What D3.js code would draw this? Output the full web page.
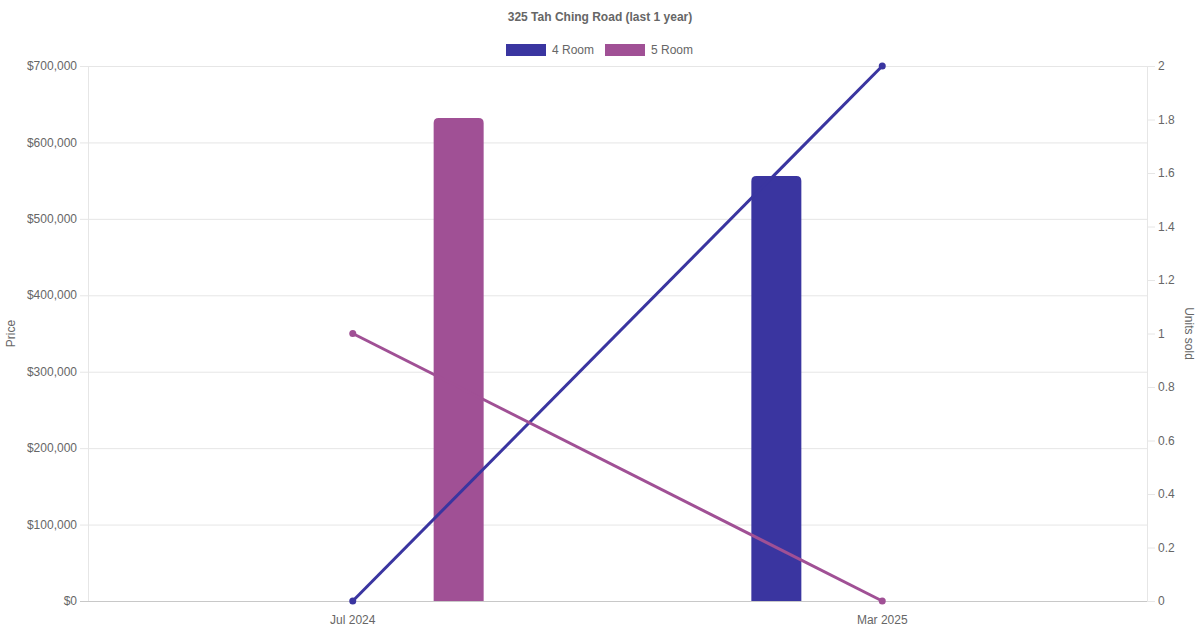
<!DOCTYPE html>
<html><head><meta charset="utf-8">
<script src="https://cdn.jsdelivr.net/npm/d3@7/dist/d3.min.js"></script>
<style>
html,body{margin:0;padding:0;background:#fff;}
svg text{font-family:"Liberation Sans",Arial,Helvetica,sans-serif;fill:#666;}
</style></head>
<body>
<svg id="c" width="1200" height="630"></svg>
<script>
const title = "325 Tah Ching Road (last 1 year)";
const categories = ["Jul 2024", "Mar 2025"];
const seriesNames = ["4 Room", "5 Room"];
const seriesColors = ["#3a35a0", "#a05095"];
const price4Room = [null, 556000];
const price5Room = [632000, null];
const units4Room = [0, 2];
const units5Room = [1, 0];
const priceTicks = [0, 100000, 200000, 300000, 400000, 500000, 600000, 700000];
const unitTicks = [0, 0.2, 0.4, 0.6, 0.8, 1, 1.2, 1.4, 1.6, 1.8, 2];

const svg = d3.select("#c");
const W = 1200, H = 630;
const m = {left: 88, right: 1147, top: 66, bottom: 601};

const x = d3.scaleBand().domain(categories).range([m.left, m.right]).padding(0);
const inner = d3.scaleBand().domain(seriesNames)
  .range([-x.bandwidth() * 0.4, x.bandwidth() * 0.4]).padding(0);
const yL = d3.scaleLinear().domain([0, 700000]).range([m.bottom, m.top]);
const yR = d3.scaleLinear().domain([0, 2]).range([m.bottom, m.top]);

// grid
svg.append("g").selectAll("line").data(priceTicks).join("line")
  .attr("x1", m.left - 8).attr("x2", m.right)
  .attr("y1", d => yL(d) + 0.5).attr("y2", d => yL(d) + 0.5)
  .attr("stroke", d => d === 0 ? "#c8c8c8" : "#e6e6e6").attr("stroke-width", 1);
// right ticks
svg.append("g").selectAll("line").data(unitTicks).join("line")
  .attr("x1", m.right).attr("x2", m.right + 8)
  .attr("y1", d => yR(d) + 0.5).attr("y2", d => yR(d) + 0.5)
  .attr("stroke", "#e6e6e6");
// axis vertical lines
svg.append("line").attr("x1", m.left + 0.5).attr("x2", m.left + 0.5)
  .attr("y1", m.top).attr("y2", m.bottom).attr("stroke", "#e6e6e6");
svg.append("line").attr("x1", m.right + 0.5).attr("x2", m.right + 0.5)
  .attr("y1", m.top).attr("y2", m.bottom).attr("stroke", "#e6e6e6");

// left labels
const fmt = d => "$" + d3.format(",")(d);
svg.append("g").selectAll("text").data(priceTicks).join("text")
  .attr("x", m.left - 11).attr("y", d => yL(d)).attr("dy", "0.35em")
  .attr("text-anchor", "end").attr("font-size", 12).text(fmt);
svg.append("g").selectAll("text").data(unitTicks).join("text")
  .attr("x", m.right + 11).attr("y", d => yR(d)).attr("dy", "0.35em")
  .attr("text-anchor", "start").attr("font-size", 12).text(d => d3.format("~g")(d));
// x labels
svg.append("g").selectAll("text").data(categories).join("text")
  .attr("x", d => x(d) + x.bandwidth() / 2).attr("y", 620).attr("dy", "0.35em")
  .attr("text-anchor", "middle").attr("font-size", 12).text(d => d);

// axis titles
svg.append("text").attr("transform", `translate(15,${(m.top + m.bottom) / 2}) rotate(-90)`)
  .attr("text-anchor", "middle").attr("font-size", 12).text("Price");
svg.append("text").attr("transform", `translate(1185,${(m.top + m.bottom) / 2}) rotate(90)`)
  .attr("text-anchor", "middle").attr("font-size", 12).text("Units sold");

// title
svg.append("text").attr("x", W / 2).attr("y", 17).attr("dy", "0.35em")
  .attr("text-anchor", "middle").attr("font-size", 12).attr("font-weight", "bold").text(title);

// legend
const legendX = [506, 605];
seriesNames.forEach((n, i) => {
  svg.append("rect").attr("x", legendX[i]).attr("y", 44).attr("width", 40).attr("height", 12)
    .attr("fill", seriesColors[i]);
  svg.append("text").attr("x", legendX[i] + 46).attr("y", 50).attr("dy", "0.35em")
    .attr("font-size", 12).text(n);
});

// bars
function topRounded(x0, y0, w, h, r) {
  r = Math.min(r, w / 2, h);
  return `M${x0},${y0 + h}V${y0 + r}Q${x0},${y0} ${x0 + r},${y0}H${x0 + w - r}Q${x0 + w},${y0} ${x0 + w},${y0 + r}V${y0 + h}Z`;
}
const barW = Math.min(50, inner.bandwidth() * 0.9);
const priceSeries = [price4Room, price5Room];
priceSeries.forEach((vals, si) => {
  const data = categories.map((c, i) => ({c, v: vals[i]})).filter(d => d.v != null);
  svg.append("g").selectAll("path").data(data).join("path")
    .attr("d", d => {
      const cx = x(d.c) + x.bandwidth() / 2 + inner(seriesNames[si]) + inner.bandwidth() / 2;
      return topRounded(cx - barW / 2, yL(d.v), barW, yL(0) - yL(d.v), 5);
    })
    .attr("fill", seriesColors[si]);
});

// lines
const unitSeries = [units4Room, units5Room];
const line = d3.line().x(d => x(d.c) + x.bandwidth() / 2).y(d => yR(d.v));
unitSeries.forEach((vals, si) => {
  const data = categories.map((c, i) => ({c, v: vals[i]}));
  svg.append("path").datum(data).attr("d", line).attr("fill", "none")
    .attr("stroke", seriesColors[si]).attr("stroke-width", 3);
  svg.append("g").selectAll("circle").data(data).join("circle")
    .attr("cx", d => x(d.c) + x.bandwidth() / 2).attr("cy", d => yR(d.v)).attr("r", 3.5)
    .attr("fill", seriesColors[si]);
});
</script>
</body></html>
